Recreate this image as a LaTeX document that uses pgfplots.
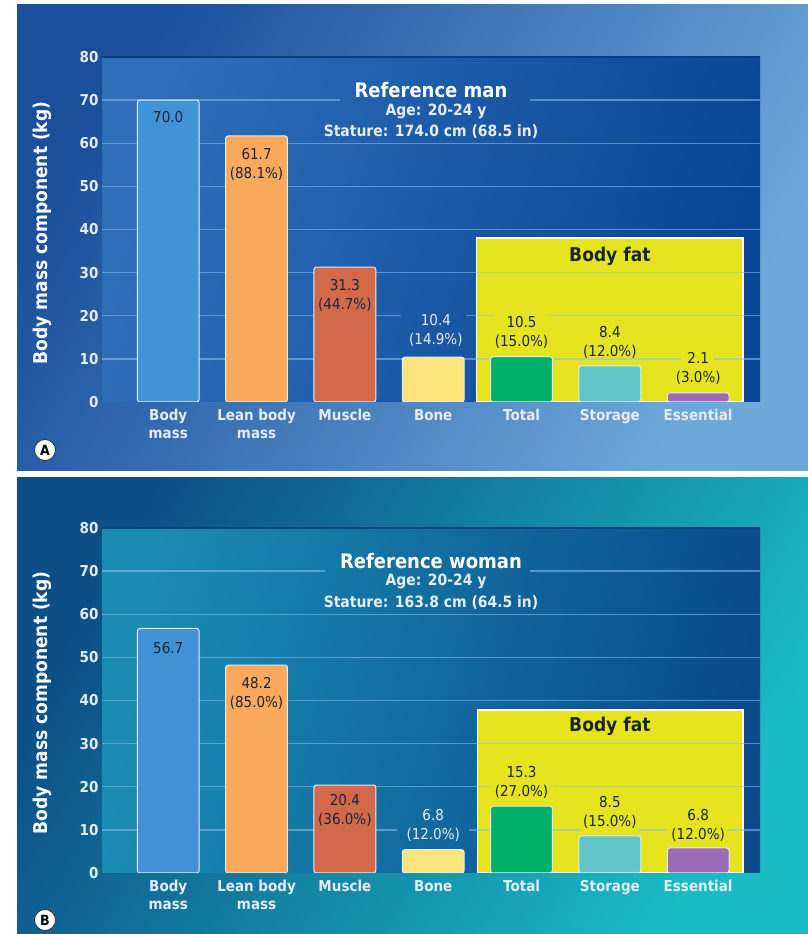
\documentclass[border=0pt]{standalone}
\usepackage{pgfplots}
\pgfplotsset{compat=1.18}
\usepackage{fontspec}
\setmainfont{DejaVu Sans}[FakeStretch=0.9]

\definecolor{cBody}{HTML}{4193D6}
\definecolor{cLean}{HTML}{FBA95C}
\definecolor{cMuscle}{HTML}{D2694B}
\definecolor{cBone}{HTML}{FDE47C}
\definecolor{cTotal}{HTML}{00B06A}
\definecolor{cStorage}{HTML}{62C6C9}
\definecolor{cEss}{HTML}{9C6BB7}
\definecolor{cYellow}{HTML}{E6E41F}
\definecolor{barline}{HTML}{E4EEF8}
\definecolor{tickc}{HTML}{E6EDF5}
\definecolor{darktxt}{HTML}{1B2532}
\definecolor{gridc}{HTML}{8CC3F0}
\definecolor{pAl}{HTML}{1A4F9C}
\definecolor{pAr}{HTML}{6EA9DB}
\definecolor{aAl}{HTML}{2E6EB8}
\definecolor{aAr}{HTML}{094696}
\definecolor{pBl}{HTML}{0D4E86}
\definecolor{pBr}{HTML}{1ABCC4}
\definecolor{aBl}{HTML}{1A8CB3}
\definecolor{aBr}{HTML}{0A4A8B}
\definecolor{topA}{HTML}{0A3C80}
\definecolor{topB}{HTML}{0A4575}

\newcommand{\mybar}[3]{\addplot[ybar, bar width=0.7, bar shift=0pt, fill=#3, draw=barline, line width=1pt, rounded corners=2.5pt] coordinates {(#1,#2)};}

\tikzset{
  grd/.style={draw=gridc, opacity=0.55, line width=1.3pt},
  lbl/.style={align=center, font=\fontsize{15}{19}\selectfont, inner sep=0pt},
}
\pgfplotsset{
  bodyaxis/.style={
    scale only axis, width=658pt, height=345pt,
    anchor=south west,
    xmin=-0.75, xmax=6.70, ymin=0, ymax=80,
    axis line style={draw=none},
    major tick length=0pt,
    tick style={draw=none},
    xtick={0,1,2,3,4,5,6},
    xticklabels={{Body\\mass},{Lean body\\mass},Muscle,Bone,Total,Storage,Essential},
    ytick={0,10,...,80},
    /pgf/number format/assume math mode=true,
    xticklabel style={align=center, text=tickc, yshift=-4pt, font=\bfseries\fontsize{15}{18}\selectfont},
    yticklabel style={text=tickc, font=\bfseries\fontsize{15}{18}\selectfont},
  },
}

\begin{document}
\begin{tikzpicture}
\fill[white] (0pt,0pt) rectangle (808pt,934pt);
\shade[left color=pAl, right color=pAr, shading angle=60] (17pt,463pt) rectangle (808pt,929pt);
\shade[left color=pBl, right color=pBr, shading angle=60] (17pt,0pt) rectangle (808pt,456pt);

% ---------------- Panel A ----------------
\begin{axis}[bodyaxis, at={(102pt,532pt)},
  axis background/.style={shade, left color=aAl, right color=aAr, shading angle=75}]
\draw[topA, line width=2pt] (axis cs:-0.75,80) -- (axis cs:6.70,80);
\fill[cYellow, draw=white, line width=1.5pt] (axis cs:3.49,0) rectangle (axis cs:6.51,38);
\draw[grd] (axis cs:-0.75,70) -- (axis cs:1.95,70) (axis cs:4.10,70) -- (axis cs:6.70,70);
\draw[grd] (axis cs:-0.75,60) -- (axis cs:6.70,60);
\draw[grd] (axis cs:-0.75,50) -- (axis cs:6.70,50);
\draw[grd] (axis cs:-0.75,40) -- (axis cs:6.70,40);
\draw[grd] (axis cs:-0.75,30) -- (axis cs:6.70,30);
\draw[grd] (axis cs:-0.75,20) -- (axis cs:2.63,20) (axis cs:3.37,20) -- (axis cs:3.70,20) (axis cs:4.29,20) -- (axis cs:6.70,20);
\draw[grd] (axis cs:-0.75,10) -- (axis cs:5.81,10) (axis cs:6.18,10) -- (axis cs:6.70,10);
\mybar{0}{70.0}{cBody}
\mybar{1}{61.7}{cLean}
\mybar{2}{31.3}{cMuscle}
\mybar{3}{10.4}{cBone}
\mybar{4}{10.5}{cTotal}
\mybar{5}{8.4}{cStorage}
\mybar{6}{2.1}{cEss}
\node[lbl, text=darktxt] at (axis cs:0,66.1) {70.0};
\node[lbl, text=darktxt] at (axis cs:1,55.0) {61.7\\(88.1\%)};
\node[lbl, text=darktxt] at (axis cs:2,24.6) {31.3\\(44.7\%)};
\node[lbl, text=tickc] at (axis cs:3.03,16.7) {10.4\\(14.9\%)};
\node[lbl, text=darktxt] at (axis cs:4,16.2) {10.5\\(15.0\%)};
\node[lbl, text=darktxt] at (axis cs:5,13.9) {8.4\\(12.0\%)};
\node[lbl, text=darktxt] at (axis cs:6,7.9) {2.1\\(3.0\%)};
\node[font=\bfseries\fontsize{19}{22}\selectfont, text=darktxt] at (axis cs:5,33.7) {Body fat};
\end{axis}
\node[font=\bfseries\fontsize{20}{24}\selectfont, text=white] at (431pt,844pt) {Reference man};
\node[font=\bfseries\fontsize{15.5}{19}\selectfont, text=tickc] at (436pt,823pt) {Age: 20-24 y};
\node[font=\bfseries\fontsize{15.5}{19}\selectfont, text=tickc] at (431pt,802pt) {Stature: 174.0 cm (68.5 in)};
\node[rotate=90, font=\bfseries\fontsize{19}{22}\selectfont, text=white] at (42pt,701pt) {Body mass component (kg)};
\node[circle, fill=white, draw=black!80, line width=0.8pt, inner sep=0pt, minimum size=21pt, font=\bfseries\fontsize{14}{14}\selectfont] at (45pt,484pt) {A};

% ---------------- Panel B ----------------
\begin{axis}[bodyaxis, at={(102pt,61pt)},
  axis background/.style={shade, left color=aBl, right color=aBr, shading angle=80}]
\draw[topB, line width=2pt] (axis cs:-0.75,80) -- (axis cs:6.70,80);
\fill[cYellow, draw=white, line width=1.5pt] (axis cs:3.50,0) rectangle (axis cs:6.51,37.8);
\draw[grd] (axis cs:-0.75,70) -- (axis cs:1.78,70) (axis cs:4.10,70) -- (axis cs:6.70,70);
\draw[grd] (axis cs:-0.75,60) -- (axis cs:6.70,60);
\draw[grd] (axis cs:-0.75,50) -- (axis cs:6.70,50);
\draw[grd] (axis cs:-0.75,40) -- (axis cs:6.70,40);
\draw[grd] (axis cs:-0.75,30) -- (axis cs:6.70,30);
\draw[grd] (axis cs:-0.75,20) -- (axis cs:3.65,20) (axis cs:4.36,20) -- (axis cs:6.70,20);
\draw[grd] (axis cs:-0.75,10) -- (axis cs:2.59,10) (axis cs:3.40,10) -- (axis cs:4.67,10) (axis cs:5.32,10) -- (axis cs:5.65,10) (axis cs:6.33,10) -- (axis cs:6.70,10);
\mybar{0}{56.7}{cBody}
\mybar{1}{48.2}{cLean}
\mybar{2}{20.4}{cMuscle}
\mybar{3}{5.4}{cBone}
\mybar{4}{15.5}{cTotal}
\mybar{5}{8.6}{cStorage}
\mybar{6}{5.8}{cEss}
\node[lbl, text=darktxt] at (axis cs:0,52.2) {56.7};
\node[lbl, text=darktxt] at (axis cs:1,41.7) {48.2\\(85.0\%)};
\node[lbl, text=darktxt] at (axis cs:2,14.4) {20.4\\(36.0\%)};
\node[lbl, text=tickc] at (axis cs:3,11.1) {6.8\\(12.0\%)};
\node[lbl, text=darktxt] at (axis cs:4,20.9) {15.3\\(27.0\%)};
\node[lbl, text=darktxt] at (axis cs:5,14.1) {8.5\\(15.0\%)};
\node[lbl, text=darktxt] at (axis cs:6,11.1) {6.8\\(12.0\%)};
\node[font=\bfseries\fontsize{19}{22}\selectfont, text=darktxt] at (axis cs:5,33.9) {Body fat};
\end{axis}
\node[font=\bfseries\fontsize{20}{24}\selectfont, text=white] at (431pt,373pt) {Reference woman};
\node[font=\bfseries\fontsize{15.5}{19}\selectfont, text=tickc] at (436pt,353pt) {Age: 20-24 y};
\node[font=\bfseries\fontsize{15.5}{19}\selectfont, text=tickc] at (431pt,331pt) {Stature: 163.8 cm (64.5 in)};
\node[rotate=90, font=\bfseries\fontsize{19}{22}\selectfont, text=white] at (42pt,231pt) {Body mass component (kg)};
\node[circle, fill=white, draw=black!80, line width=0.8pt, inner sep=0pt, minimum size=21pt, font=\bfseries\fontsize{14}{14}\selectfont] at (45pt,14pt) {B};
\end{tikzpicture}
\end{document}
